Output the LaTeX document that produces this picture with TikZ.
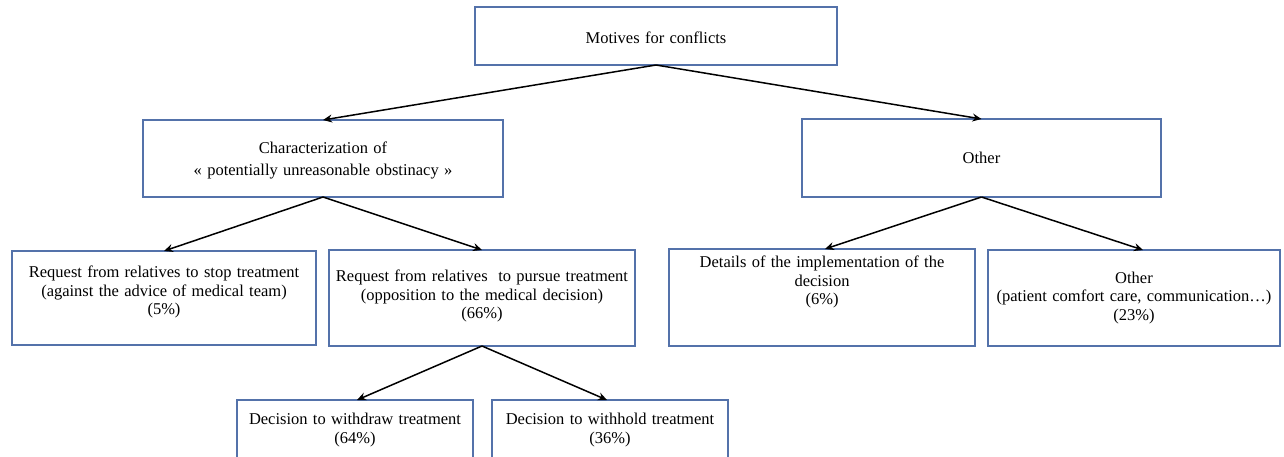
\documentclass[tikz,border=0pt]{standalone}
\usepackage{fontspec}
\setmainfont{Liberation Serif}
\usetikzlibrary{arrows.meta}
\definecolor{boxblue}{RGB}{84,114,170}
\newcommand{\boxfont}{\fontsize{16.5}{18.5}\selectfont\spaceskip=5.3pt plus 1pt\relax}
\newcommand{\boxfontwide}{\fontsize{16.5}{22}\selectfont\spaceskip=5.3pt plus 1pt\relax}
\begin{document}
\begin{tikzpicture}[x=1pt,y=-1pt,
  box/.style={draw=boxblue,line width=1.2pt,rectangle,inner sep=0pt,outer sep=0pt,fill=white},
  txt/.style={inner sep=0pt,align=center,font=\boxfont},
  conn/.style={line width=1.5pt,-{Stealth[length=9pt,width=8pt,inset=3pt]}}]
\clip (0,0) rectangle (1284,457);
\fill[white] (0,0) rectangle (1284,457);
% boxes
\node[box,minimum width=362pt,minimum height=58pt] (top) at (656,36) {};
\node[box,minimum width=360pt,minimum height=77pt] (char) at (323,158.5) {};
\node[box,minimum width=359pt,minimum height=78pt] (oth) at (981.5,158) {};
\node[box,minimum width=304pt,minimum height=94pt] (stop) at (164,298) {};
\node[box,minimum width=306pt,minimum height=96pt] (pursue) at (482,298) {};
\node[box,minimum width=306pt,minimum height=97pt] (details) at (822,297.5) {};
\node[box,minimum width=292pt,minimum height=96pt] (oth2) at (1134,298) {};
\node[box,minimum width=236pt,minimum height=80pt] (withdraw) at (355,440) {};
\node[box,minimum width=236pt,minimum height=80pt] (withhold) at (610,440) {};
% texts
\node[txt] (topT) at (656,38) {Motives for conflicts};
\node[txt,font=\boxfontwide] (charT) at (323,160) {Characterization of\\« potentially unreasonable obstinacy »};
\node[txt] (othT) at (981.5,158) {Other};
\node[txt] (stopT) at (164,292) {Request from relatives to stop treatment\\(against the advice of medical team)\\(5\%)};
\node[txt] (pursueT) at (482,296) {Request from relatives\ \ to pursue treatment\\(opposition to the medical decision)\\(66\%)};
\node[txt] (detailsT) at (822,282) {Details of the implementation of the\\decision\\(6\%)};
\node[txt] (oth2T) at (1134,298) {Other\\(patient comfort care, communication…)\\(23\%)};
\node[txt] (withdrawT) at (355,430) {Decision to withdraw treatment\\(64\%)};
\node[txt] (withholdT) at (610,430) {Decision to withhold treatment\\(36\%)};
% connectors
\draw[conn] (top.south) -- (char.north);
\draw[conn] (top.south) -- (oth.north);
\draw[conn] (char.south) -- (stop.north);
\draw[conn] (char.south) -- (pursue.north);
\draw[conn] (oth.south) -- ([xshift=3pt]details.north);
\draw[conn] (oth.south) -- ([xshift=9pt]oth2.north);
\draw[conn] (pursue.south) -- ([xshift=2pt]withdraw.north);
\draw[conn] (pursue.south) -- ([xshift=-3pt]withhold.north);
\end{tikzpicture}
\end{document}
